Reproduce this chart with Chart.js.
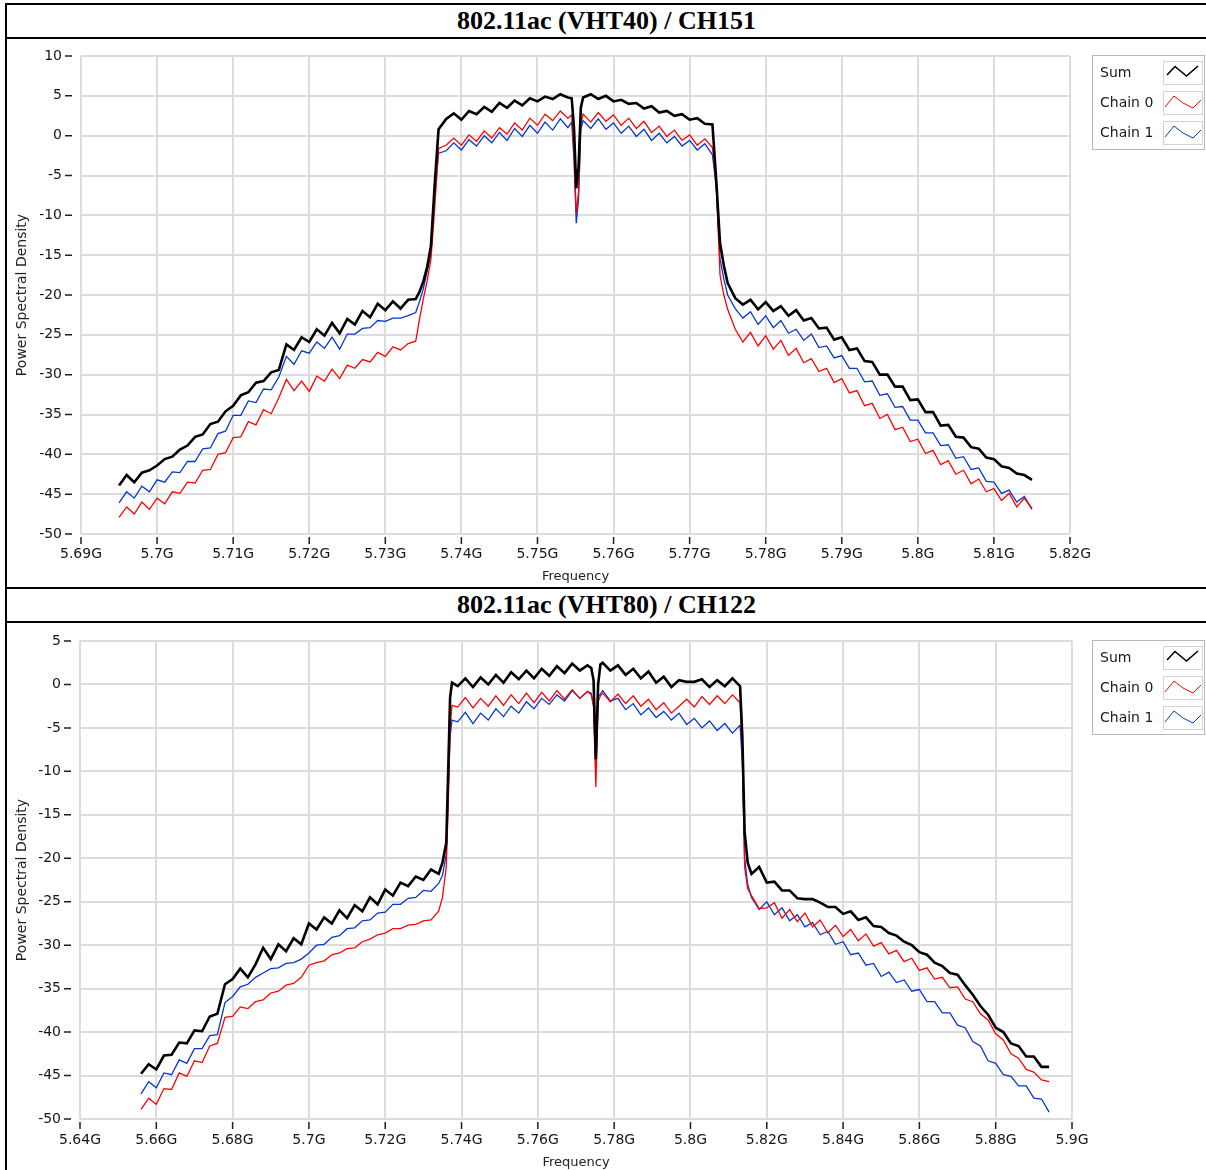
<!DOCTYPE html>
<html>
<head>
<meta charset="utf-8">
<script src="https://cdn.jsdelivr.net/npm/chart.js@4.4.1/dist/chart.umd.min.js"></script>
<style>
  body { margin: 0; background: #fff; width: 1206px; height: 1170px; overflow: hidden; position: relative; }
  .rule { position: absolute; background: #000; }
  .caption { position: absolute; left: 7px; width: 1199px; text-align: center;
             font: bold 26px "Liberation Serif", "Times New Roman", serif; color: #000; }
  canvas { position: absolute; left: 7px; }
</style>
</head>
<body>
<div class="rule" style="left:5px;top:3px;width:1201px;height:2px"></div>
<div class="rule" style="left:5px;top:3px;width:2px;height:1167px"></div>
<div class="caption" style="top:5px;height:32px;line-height:32px">802.11ac (VHT40) / CH151</div>
<div class="rule" style="left:5px;top:37px;width:1201px;height:2px"></div>
<canvas id="ch151" width="1199" height="548" style="top:39px"></canvas>
<div class="rule" style="left:5px;top:587px;width:1201px;height:2px"></div>
<div class="caption" style="top:589px;height:32px;line-height:32px">802.11ac (VHT80) / CH122</div>
<div class="rule" style="left:5px;top:621px;width:1201px;height:2px"></div>
<canvas id="ch122" width="1199" height="547" style="top:623px"></canvas>

<script>
const SERIES = ['Sum', 'Chain 0', 'Chain 1'];
const COLORS = ['#000000', '#ff0000', '#0535d2'];

// ---- CH151, VHT40 sweep (frequency in MHz, PSD in dB) ----
const freq151 = [
  5695, 5696, 5697, 5698, 5699, 5700, 5701, 5702, 5703, 5704, 5705, 5706, 5707, 5708, 5709, 5710, 5711, 5712, 5713, 5714,
  5715, 5716, 5717, 5718, 5719, 5720, 5721, 5722, 5723, 5724, 5725, 5726, 5727, 5728, 5729, 5730, 5731, 5732, 5733, 5734,
  5734.5, 5735, 5735.5, 5736, 5736.5, 5737,
  5738, 5739, 5740, 5741, 5742, 5743, 5744, 5745, 5746, 5747, 5748, 5749, 5750, 5751, 5752, 5753, 5754,
  5754.5, 5754.8, 5755.1, 5755.4, 5755.7,
  5756, 5757, 5758, 5759, 5760, 5761, 5762, 5763, 5764, 5765, 5766, 5767, 5768, 5769, 5770, 5771, 5772, 5773,
  5773.5, 5774, 5774.5, 5775,
  5776, 5777, 5778, 5779, 5780, 5781, 5782, 5783, 5784, 5785, 5786, 5787, 5788, 5789, 5790, 5791, 5792, 5793, 5794, 5795,
  5796, 5797, 5798, 5799, 5800, 5801, 5802, 5803, 5804, 5805, 5806, 5807, 5808, 5809, 5810, 5811, 5812, 5813, 5814, 5815
];
const sum151 = [
  -43.9, -42.6, -43.5, -42.3, -42.0, -41.4, -40.6, -40.3, -39.4, -38.9, -37.8, -37.5, -36.2, -35.9, -34.6, -33.9, -32.6, -32.2, -31.0, -30.8,
  -29.7, -29.4, -26.2, -26.9, -25.3, -25.9, -24.3, -25.1, -23.5, -24.8, -23.0, -23.7, -22.0, -22.8, -21.1, -21.9, -20.8, -21.7, -20.6, -20.5,
  -19.6, -18.3, -16.5, -13.8, -6.0, 0.8,
  2.1, 2.8, 2.0, 3.1, 2.7, 3.6, 3.0, 4.1, 3.5, 4.4, 3.8, 4.7, 4.3, 4.9, 4.6, 5.2, 4.8,
  4.7, 1.0, -6.6, -4.0, 3.5,
  4.8, 5.2, 4.6, 5.0, 4.3, 4.5, 4.0, 4.1, 3.4, 3.7, 2.9, 3.1, 2.5, 2.7, 2.0, 2.2, 1.5, 1.4,
  -5.6, -13.5, -16.3, -18.5,
  -20.4, -21.2, -20.6, -21.8, -20.9, -22.0, -21.4, -22.6, -21.9, -23.2, -22.9, -24.2, -24.1, -25.6, -25.3, -26.9, -26.7, -28.3, -28.4, -30.0,
  -30.0, -31.5, -31.5, -33.2, -33.1, -34.7, -34.7, -36.4, -36.3, -37.8, -37.9, -39.1, -39.3, -40.4, -40.6, -41.5, -41.7, -42.4, -42.6, -43.2
];
const chain0_151 = [
  -47.9, -46.6, -47.5, -46.0, -46.9, -45.5, -46.2, -44.7, -44.9, -43.5, -43.6, -42.0, -41.9, -40.0, -39.8, -37.9, -37.8, -35.9, -36.3, -34.4,
  -34.9, -32.9, -30.6, -32.0, -30.8, -32.1, -30.2, -30.8, -29.3, -30.5, -28.8, -29.2, -28.1, -28.4, -27.2, -27.7, -26.5, -26.9, -26.1, -25.8,
  -23.0, -20.5, -18.2, -15.5, -9.0, -1.6,
  -1.2, -0.3, -1.2, 0.1, -0.7, 0.6, -0.3, 1.0, 0.2, 1.6, 0.7, 2.2, 1.3, 2.7, 1.9, 3.1, 2.2,
  2.6, -2.0, -9.8, -7.0, 1.5,
  2.7, 1.7, 2.9, 1.8, 2.6, 1.3, 2.2, 0.9, 1.8, 0.4, 1.2, -0.1, 0.7, -0.6, 0.1, -1.2, -0.4, -1.5,
  -6.0, -17.5, -20.0, -21.8,
  -24.3, -25.9, -24.7, -26.4, -25.1, -26.8, -25.7, -27.6, -26.7, -28.5, -28.0, -29.6, -29.2, -31.0, -30.5, -32.3, -32.0, -33.9, -33.6, -35.5,
  -35.0, -36.9, -36.6, -38.4, -38.1, -39.9, -39.5, -41.3, -40.8, -42.5, -42.0, -43.7, -43.1, -44.7, -44.3, -45.8, -44.9, -46.6, -45.5, -46.8
];
const chain1_151 = [
  -46.1, -44.7, -45.5, -44.0, -44.7, -43.2, -43.5, -42.2, -42.3, -40.9, -40.9, -39.3, -39.2, -37.4, -37.1, -35.1, -35.1, -33.3, -33.5, -31.8,
  -31.9, -30.3, -27.7, -28.7, -27.0, -27.3, -25.9, -26.7, -25.3, -26.8, -24.9, -24.9, -24.2, -24.1, -23.2, -23.3, -22.9, -22.9, -22.6, -22.2,
  -20.8, -19.2, -17.0, -14.8, -7.5, -2.2,
  -1.9, -0.9, -1.8, -0.5, -1.3, 0.0, -0.9, 0.4, -0.6, 0.9, -0.1, 1.3, 0.3, 1.7, 0.7, 2.1, 1.0,
  1.7, -3.0, -11.0, -8.0, 0.8,
  1.9, 0.9, 2.1, 0.8, 1.6, 0.3, 1.2, -0.1, 0.8, -0.6, 0.3, -0.9, -0.1, -1.3, -0.6, -1.8, -1.0, -2.4,
  -6.5, -15.5, -18.0, -20.0,
  -21.7, -22.9, -22.1, -23.7, -22.6, -24.1, -23.2, -24.8, -24.3, -25.7, -24.9, -26.6, -26.4, -27.9, -27.6, -29.2, -29.2, -30.9, -30.8, -32.6,
  -32.4, -34.1, -34.0, -35.7, -35.7, -37.3, -37.3, -38.9, -38.8, -40.5, -40.3, -41.9, -41.7, -43.4, -43.5, -44.9, -44.5, -46.0, -45.3, -46.9
];

// ---- CH122, VHT80 sweep ----
const freq122 = [
  5656, 5658, 5660, 5662, 5664, 5666, 5668, 5670, 5672, 5674, 5676, 5678, 5680, 5682, 5684, 5686, 5688, 5690, 5692, 5694,
  5696, 5698, 5700, 5702, 5704, 5706, 5708, 5710, 5712, 5714, 5716, 5718, 5720, 5722, 5724, 5726, 5728, 5730, 5732, 5734,
  5735, 5736, 5736.5, 5737, 5737.5,
  5739, 5741, 5743, 5745, 5747, 5749, 5751, 5753, 5755, 5757, 5759, 5761, 5763, 5765, 5767, 5769, 5771, 5773,
  5774, 5774.6, 5775.2, 5775.8, 5776.4,
  5777, 5779, 5781, 5783, 5785, 5787, 5789, 5791, 5793, 5795, 5797, 5799, 5801, 5803, 5805, 5807, 5809, 5811, 5813,
  5813.6, 5814.2, 5815,
  5816, 5818, 5820, 5822, 5824, 5826, 5828, 5830, 5832, 5834, 5836, 5838, 5840, 5842, 5844, 5846, 5848, 5850, 5852, 5854,
  5856, 5858, 5860, 5862, 5864, 5866, 5868, 5870, 5872, 5874, 5876, 5878, 5880, 5882, 5884, 5886, 5888, 5890, 5892, 5894
];
const sum122 = [
  -44.8, -43.7, -44.3, -42.7, -42.6, -41.2, -41.3, -39.8, -39.9, -38.2, -37.9, -34.5, -33.9, -32.7, -33.7, -32.2, -30.3, -31.6, -29.9, -30.7,
  -29.2, -29.9, -27.5, -28.2, -26.8, -27.5, -26.0, -26.9, -25.4, -26.1, -24.5, -25.3, -23.6, -24.3, -22.8, -23.2, -22.1, -22.5, -21.3, -21.8,
  -20.5, -18.2, -10.0, -1.5, 0.2,
  -0.2, 0.7, -0.3, 0.8, 0.0, 1.1, 0.2, 1.4, 0.6, 1.6, 0.7, 1.8, 1.0, 2.1, 1.3, 2.4, 1.6, 2.2,
  1.9, 0.5, -8.6, 0.0, 2.3,
  2.5, 1.6, 2.2, 1.1, 1.8, 0.7, 1.5, 0.2, 0.9, -0.3, 0.5, 0.3, 0.3, 0.6, -0.3, 0.5, -0.2, 0.7, -0.2,
  -6.0, -17.0, -20.5,
  -21.8, -21.0, -22.8, -22.7, -23.7, -23.7, -24.6, -24.7, -24.7, -25.1, -25.6, -25.6, -26.4, -26.1, -27.1, -26.8, -27.8, -27.9, -28.6, -28.9,
  -29.6, -30.0, -30.8, -31.1, -32.0, -32.4, -33.2, -33.4, -34.6, -35.7, -37.0, -38.0, -39.5, -40.0, -41.3, -41.6, -42.8, -42.8, -44.0, -44.0
];
const chain0_122 = [
  -48.9, -47.6, -48.3, -46.5, -46.6, -44.7, -45.1, -43.3, -43.5, -41.6, -41.3, -38.3, -38.2, -37.1, -37.3, -36.5, -36.3, -35.5, -35.3, -34.6,
  -34.4, -33.7, -32.3, -32.0, -31.8, -31.1, -30.9, -30.4, -30.3, -29.6, -29.3, -28.8, -28.6, -28.1, -28.1, -27.7, -27.6, -27.2, -27.1, -26.1,
  -24.5, -21.0, -14.0, -5.0, -2.4,
  -2.6, -1.5, -2.7, -1.6, -2.5, -1.3, -2.4, -1.2, -2.2, -1.0, -2.1, -0.9, -1.9, -0.7, -1.7, -0.6, -1.6, -0.8,
  -1.2, -2.5, -11.8, -2.0, -1.3,
  -1.0, -2.0, -1.1, -2.2, -1.3, -2.5, -1.7, -2.9, -2.1, -3.3, -2.5, -1.7, -2.6, -1.4, -2.3, -1.3, -2.2, -1.2, -2.1,
  -8.0, -21.0, -23.5,
  -24.3, -25.8, -25.7, -25.1, -26.9, -25.9, -27.3, -26.3, -27.9, -27.1, -28.6, -27.7, -29.0, -28.2, -29.5, -28.7, -30.1, -29.7, -31.0, -30.6,
  -31.9, -31.5, -32.9, -32.6, -33.9, -33.7, -34.9, -34.8, -36.2, -36.5, -37.9, -38.6, -40.2, -40.9, -42.5, -43.0, -44.3, -44.6, -45.5, -45.7
];
const chain1_122 = [
  -47.1, -45.7, -46.4, -44.7, -44.9, -43.2, -43.6, -41.9, -41.9, -40.4, -40.3, -36.6, -35.9, -34.8, -34.5, -33.7, -33.2, -32.7, -32.6, -32.1,
  -32.0, -31.6, -30.9, -30.0, -29.9, -29.1, -28.9, -28.1, -28.0, -27.2, -27.1, -26.3, -26.2, -25.3, -25.3, -24.6, -24.5, -23.7, -23.8, -22.9,
  -22.0, -19.5, -12.5, -6.0, -4.1,
  -4.3, -3.2, -4.5, -3.3, -4.1, -2.8, -3.7, -2.5, -3.3, -2.0, -2.8, -1.6, -2.3, -1.2, -1.9, -0.7, -1.6, -0.8,
  -1.0, -2.5, -9.5, -1.5, -1.1,
  -0.7, -1.9, -1.6, -2.9, -2.2, -3.5, -2.7, -3.8, -3.1, -4.1, -3.3, -4.6, -3.9, -5.0, -4.2, -5.3, -4.5, -5.6, -4.7,
  -9.0, -20.0, -23.0,
  -24.5, -25.9, -25.0, -26.5, -25.7, -27.2, -26.5, -27.9, -27.4, -28.8, -28.4, -29.9, -29.6, -31.1, -30.9, -32.3, -32.1, -33.6, -33.1, -34.3,
  -34.0, -35.3, -35.1, -36.5, -36.5, -37.8, -37.8, -39.2, -39.5, -41.1, -41.6, -43.3, -43.6, -44.9, -45.1, -46.2, -46.2, -47.6, -47.7, -49.2
];

Chart.defaults.font.family = '"DejaVu Sans", Verdana, sans-serif';
Chart.defaults.font.size = 14;
Chart.defaults.color = '#161616';

function points(freq, vals) {
  return freq.map((f, i) => ({ x: f, y: vals[i] }));
}

// short dash tick marks, set a little away from the plot like the analyzer UI
const tickMarks = {
  id: 'tickMarks',
  afterDraw(chart) {
    const { ctx, chartArea: a, scales: { x, y } } = chart;
    ctx.save();
    ctx.strokeStyle = '#202020';
    ctx.lineWidth = 1.5;
    ctx.beginPath();
    y.ticks.forEach(t => {
      const p = y.getPixelForValue(t.value);
      ctx.moveTo(a.left - 16, p);
      ctx.lineTo(a.left - 9, p);
    });
    x.ticks.forEach(t => {
      const p = x.getPixelForValue(t.value);
      ctx.moveTo(p, a.bottom + 3);
      ctx.lineTo(p, a.bottom + 10);
    });
    ctx.stroke();
    ctx.restore();
  }
};

// boxed legend on the right with little zigzag swatches
const swatchPaths = [
  [[4, 14], [12, 5.5], [23.5, 15], [35, 5]],
  [[2, 16], [11, 5], [20, 12], [30, 17], [38, 9]],
  [[2, 16], [11, 5], [20, 12], [30, 17], [38, 9]]
];
const sideLegend = {
  id: 'sideLegend',
  afterDraw(chart) {
    const { ctx, chartArea: a } = chart;
    const left = chart.width - 114, top = a.top - 1, w = 113, h = 95;
    ctx.save();
    ctx.fillStyle = '#fff';
    ctx.fillRect(left, top, w, h);
    ctx.strokeStyle = '#b8b8b8';
    ctx.lineWidth = 1;
    ctx.strokeRect(left + 0.5, top + 0.5, w - 1, h - 1);
    ctx.font = '14px "DejaVu Sans", Verdana, sans-serif';
    ctx.textBaseline = 'middle';
    chart.data.datasets.forEach((ds, i) => {
      const rowY = top + 6 + i * 30;
      const bx = left + 71;
      ctx.fillStyle = '#1a1a1a';
      ctx.fillText(ds.label, left + 8, rowY + 12);
      ctx.strokeStyle = '#d2d2d2';
      ctx.lineWidth = 1;
      ctx.strokeRect(bx + 0.5, rowY + 0.5, 39, 23);
      ctx.strokeStyle = ds.borderColor;
      ctx.lineWidth = i === 0 ? 1.6 : 1;
      ctx.beginPath();
      swatchPaths[i].forEach(([px, py], k) => {
        if (k) ctx.lineTo(bx + px, rowY + py); else ctx.moveTo(bx + px, rowY + py);
      });
      ctx.stroke();
    });
    ctx.restore();
  }
};

function drawSpectrum(id, cfg) {
  const grid = { color: '#dcdcdc', lineWidth: 2, drawTicks: false };
  new Chart(document.getElementById(id), {
    type: 'line',
    data: {
      datasets: cfg.series.map((vals, i) => ({
        label: SERIES[i],
        data: points(cfg.freq, vals),
        borderColor: COLORS[i],
        borderWidth: i === 0 ? 2.6 : 1.3,
        pointRadius: 0,
        tension: 0,
        fill: false
      }))
    },
    options: {
      responsive: false,
      animation: false,
      devicePixelRatio: 1,
      layout: { padding: { top: cfg.top, right: cfg.right, left: 0, bottom: 0 } },
      plugins: { legend: { display: false }, tooltip: { enabled: false } },
      scales: {
        x: {
          type: 'linear',
          min: cfg.xMin,
          max: cfg.xMax,
          grid,
          border: { display: false },
          ticks: {
            stepSize: cfg.xStep,
            padding: cfg.xPad,
            maxRotation: 0,
            autoSkip: false,
            callback: v => (v / 1000) + 'G'
          },
          title: { display: true, text: 'Frequency', color: '#222', font: { size: 13 },
                   padding: { top: 0, bottom: cfg.titlePad } },
          afterFit: s => { s.height = cfg.xHeight; }
        },
        y: {
          min: -50,
          max: cfg.yMax,
          grid,
          border: { display: false },
          ticks: { stepSize: 5, padding: 19 },
          title: { display: true, text: 'Power Spectral Density', color: '#222', font: { size: 14 },
                   padding: { top: 7, bottom: 0 } },
          // fixed axis width; the wide label gap must not push the plot down
          afterFit: s => { s.width = cfg.yWidth; s.paddingTop = 0; s.paddingBottom = 0; }
        }
      }
    },
    plugins: [tickMarks, sideLegend]
  });
}

drawSpectrum('ch151', {
  freq: freq151,
  series: [sum151, chain0_151, chain1_151],
  xMin: 5690, xMax: 5820, xStep: 10, yMax: 10,
  top: 17, right: 136, yWidth: 74, xHeight: 53, xPad: 12, titlePad: 3
});

drawSpectrum('ch122', {
  freq: freq122,
  series: [sum122, chain0_122, chain1_122],
  xMin: 5640, xMax: 5900, xStep: 20, yMax: 5,
  top: 18, right: 134, yWidth: 73, xHeight: 51, xPad: 13, titlePad: 0
});
</script>
</body>
</html>
